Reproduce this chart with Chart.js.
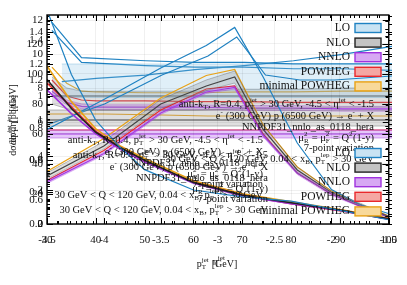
<!DOCTYPE html>
<html>
<head>
<meta charset="utf-8">
<script src="https://cdn.jsdelivr.net/npm/chart.js@4.4.1/dist/chart.umd.min.js"></script>
<style>
  html, body { margin: 0; padding: 0; background: #fff; }
  #wrap { position: relative; width: 407px; height: 285px; }
  #wrap canvas { position: absolute; left: 0; top: 0; }
</style>
</head>
<body>
<div id="wrap">
  <canvas id="cRatio1" width="407" height="285"></canvas>
  <canvas id="cRatio2" width="407" height="285"></canvas>
  <canvas id="cEta" width="407" height="285"></canvas>
  <canvas id="cPt" width="407" height="285"></canvas>
</div>
<script>
// ---- data ----
const ptBins = [30, 35, 40, 45, 50, 60, 70, 80, 90, 100];
const ptLO = [12.6, 8.8, 6.1, 4.5, 3.2, 2.0, 1.6, 1.35, 0.8, 0.25];
const ptNLO = [8.5, 6.8, 5.4, 4.5, 3.75, 2.45, 1.7, 1.25, 0.82, 0.3];
const ptNNLO = [7.9, 6.5, 5.3, 4.4, 3.65, 2.4, 1.65, 1.2, 0.8, 0.28];
const ptPOWHEG = [8.3, 6.9, 5.45, 4.5, 3.7, 2.45, 1.7, 1.2, 0.78, 0.3];
const ptMinPOWHEG = [9.3, 7.2, 5.6, 4.6, 3.85, 2.55, 1.78, 1.3, 0.85, 0.33];

const etaBins = [-4.5, -4.0, -3.5, -3.1, -2.85, -2.6, -2.3, -2.0, -1.75, -1.5];
const etaLO = [63, 83, 104, 119, 131, 98, 54, 23, 13, 7];
const etaNLO = [32, 52, 80, 92, 98, 63, 36, 21, 13, 5];
const etaNLOlo = [30, 50, 77, 89, 94, 60, 34, 20, 12, 4.5];
const etaNLOhi = [34, 55, 83, 96, 102, 66, 38, 22, 14, 5.5];
const etaNNLO = [28, 47, 74, 88, 91, 59, 34, 20, 12, 4.6];
const etaNNLOlo = [27, 46, 73, 87, 90, 58, 33, 19, 11.5, 4.3];
const etaNNLOhi = [29, 48, 75, 89, 92, 60, 35, 21, 12.5, 4.9];
const etaPOWHEG = [29, 49, 76, 90, 92, 60, 34, 20, 12, 4.8];
const etaMinPOWHEG = [35, 57, 84, 99, 103, 66, 38, 22, 13, 5.5];

const r1Bins = [31, 34, 37, 40, 50, 60, 70, 80, 90, 100];
const r1NLO = [1, 1, 1, 1, 1, 1, 1, 1, 1, 1];
const r1NLOlo = [0.95, 0.92, 0.91, 0.91, 0.91, 0.91, 0.92, 0.92, 0.93, 0.93];
const r1NLOhi = [1.12, 1.05, 1.03, 1.03, 1.03, 1.03, 1.04, 1.04, 1.05, 1.05];
const r1LObox = [33, 40, 50, 60, 70, 80, 90, 100];
const r1LO = [1.09, 1.11, 1.13, 1.165, 1.19, 1.22, 1.26, 1.31];
const r1LOlo = [0.99, 0.99, 0.99, 0.99, 0.99, 0.99, 0.99, 0.99];
const r1LOhi = [1.2, 1.2, 1.2, 1.2, 1.2, 1.2, 1.2, 1.2];
const r1LObins = [31, 37, 50, 60, 70, 80, 90, 100];
const r1LOa = [1.46, 1.24, 1.22, 1.21, 1.21, 1.2, 1.2, 1.2];
const r1LOb = [1.41, 1.21, 1.19, 1.18, 1.18, 1.17, 1.17, 1.16];
const r1NNLO = [1.03, 0.96, 0.935, 0.93, 0.93, 0.93, 0.925, 0.925, 0.92, 0.92];
const r1NNLOlo = [1.01, 0.945, 0.92, 0.915, 0.915, 0.915, 0.91, 0.91, 0.905, 0.905];
const r1NNLOhi = [1.05, 0.975, 0.95, 0.945, 0.945, 0.945, 0.94, 0.94, 0.935, 0.935];
const r1POWHEG = [1.1, 1.0, 0.975, 0.97, 0.97, 0.965, 0.965, 0.96, 0.96, 0.96];
const r1MinPOWHEG = [1.18, 1.08, 1.03, 1.025, 1.02, 1.02, 1.025, 1.025, 1.03, 1.03];

const r2LO = [0.975, 1.08, 1.225, 1.32, 1.415, 1.225, 1.2, 1.2, 1.21, 1.22];
const r2NLO = [1, 1, 1, 1, 1, 1, 1, 1, 1, 1];
const r2NLOlo = [0.97, 0.97, 0.97, 0.97, 0.97, 0.97, 0.97, 0.97, 0.97, 0.97];
const r2NLOhi = [1.05, 1.05, 1.05, 1.05, 1.05, 1.05, 1.05, 1.05, 1.05, 1.05];
const r2NNLO = [0.93, 0.93, 0.93, 0.93, 0.93, 0.93, 0.93, 0.93, 0.93, 0.93];
const r2NNLOlo = [0.91, 0.91, 0.91, 0.91, 0.91, 0.91, 0.91, 0.91, 0.91, 0.91];
const r2NNLOhi = [0.95, 0.95, 0.95, 0.95, 0.95, 0.95, 0.95, 0.95, 0.95, 0.95];
const r2POWHEG = [0.95, 0.95, 0.95, 0.95, 0.95, 0.95, 0.95, 0.95, 0.95, 0.95];
const r2MinPOWHEG = [1.03, 1.03, 1.025, 1.02, 1.02, 1.02, 1.02, 1.02, 1.02, 1.02];

const legendNames = ['LO', 'NLO', 'NNLO', 'POWHEG', 'minimal POWHEG'];
const infoLines = [
  'anti-k_{T}, R=0.4, p_{T}^{jet} > 30 GeV, -4.5 < η^{jet} < -1.5',
  'e^{-} (300 GeV) p (6500 GeV) → e^{-} + X',
  'NNPDF31_nnlo_as_0118_hera',
  'μ_{R}^{2} = μ_{F}^{2} = Q^{2}(1-y)',
  '7-point variation',
  '30 GeV < Q < 120 GeV, 0.04 < x_{B}, p_{T}^{lep} > 30 GeV'
];

// ---- styles ----
const COL = {
  LO: '#1f82c2', NLO: '#222222', NNLO: '#a032de', POWHEG: '#e8282c', MIN: '#e9a216'
};
const FILL = {
  LO: 'rgba(130,190,228,0.32)', NLO: 'rgba(150,150,150,0.3)', NNLO: 'rgba(175,80,235,0.32)',
  POWHEG: 'rgba(242,110,105,0.4)', MIN: 'rgba(246,196,90,0.4)'
};
const legendCols = [COL.LO, COL.NLO, COL.NNLO, COL.POWHEG, COL.MIN];
const legendFills = ['#c9e3f3', '#c4c4c4', '#d7a8f3', '#f5a7a3', '#f8d99a'];
const SERIF = '"Liberation Serif", "DejaVu Serif", serif';

const pts = (xs, ys) => xs.map((x, i) => ({ x: x, y: ys[i] }));
const fmt = v => String(Math.round(v * 1000) / 1000);

function line(xs, ys, color, w) {
  return { data: pts(xs, ys), borderColor: color, borderWidth: w || 1.2, pointRadius: 0, fill: false };
}

function band(xs, lo, hi, color, fillColor) {
  return [
    { data: pts(xs, hi), borderColor: color, borderWidth: 0.7, pointRadius: 0, fill: '+1', backgroundColor: fillColor },
    { data: pts(xs, lo), borderColor: color, borderWidth: 0.7, pointRadius: 0, fill: false }
  ];
}

// inward major/minor ticks on all four sides
const inTicks = {
  id: 'inTicks',
  afterDraw(chart, args, o) {
    const { ctx, chartArea: a } = chart;
    const sx = chart.scales.x, sy = chart.scales.y;
    ctx.save();
    ctx.strokeStyle = '#000';
    ctx.lineWidth = 1;
    ctx.beginPath();
    if (o.minorX) {
      const n = Math.round((sx.max - sx.min) / o.minorX);
      for (let i = 0; i <= n; i++) {
        const v = sx.min + i * o.minorX;
        const r = v / o.majorX;
        const L = Math.abs(r - Math.round(r)) < 1e-6 ? 6 : 3;
        const p = Math.round(sx.getPixelForValue(v)) + 0.5;
        ctx.moveTo(p, a.bottom); ctx.lineTo(p, a.bottom - L);
        ctx.moveTo(p, a.top); ctx.lineTo(p, a.top + L);
      }
    }
    if (o.minorY) {
      const n = Math.floor((sy.max - sy.min) / o.minorY + 1e-6);
      for (let i = 0; i <= n; i++) {
        const v = sy.min + i * o.minorY;
        const r = v / o.majorY;
        const L = Math.abs(r - Math.round(r)) < 1e-6 ? 6 : 3;
        const p = Math.round(sy.getPixelForValue(v)) + 0.5;
        ctx.moveTo(a.left, p); ctx.lineTo(a.left + L, p);
        ctx.moveTo(a.right, p); ctx.lineTo(a.right - L, p);
      }
    }
    ctx.stroke();
    ctx.restore();
  }
};

// rich text: _{sub} ^{sup}
function parseRich(s) {
  const parts = [];
  const re = /_\{([^}]*)\}\^\{([^}]*)\}|_\{([^}]*)\}|\^\{([^}]*)\}/g;
  let last = 0, m;
  while ((m = re.exec(s))) {
    if (m.index > last) parts.push({ t: s.slice(last, m.index) });
    if (m[1] !== undefined) parts.push({ sub: m[1], sup: m[2] });
    else if (m[3] !== undefined) parts.push({ sub: m[3] });
    else parts.push({ sup: m[4] });
    last = re.lastIndex;
  }
  if (last < s.length) parts.push({ t: s.slice(last) });
  return parts;
}

function drawRich(ctx, s, x, y, size, align) {
  const parts = parseRich(s);
  const big = size + 'px ' + SERIF, small = Math.round(size * 0.7) + 'px ' + SERIF;
  const widths = parts.map(p => {
    if (p.t !== undefined) { ctx.font = big; return ctx.measureText(p.t).width; }
    ctx.font = small;
    return Math.max(p.sub ? ctx.measureText(p.sub).width : 0, p.sup ? ctx.measureText(p.sup).width : 0) + 0.5;
  });
  const total = widths.reduce((s2, w) => s2 + w, 0);
  let cx = align === 'right' ? x - total : align === 'center' ? x - total / 2 : x;
  ctx.textBaseline = 'middle';
  ctx.textAlign = 'left';
  parts.forEach((p, i) => {
    if (p.t !== undefined) { ctx.font = big; ctx.fillText(p.t, cx, y); }
    else {
      ctx.font = small;
      if (p.sup) ctx.fillText(p.sup, cx, y - size * 0.35);
      if (p.sub) ctx.fillText(p.sub, cx, y + size * 0.3);
    }
    cx += widths[i];
  });
}

const annot = {
  id: 'annot',
  afterDraw(chart) {
    const { ctx, chartArea: a } = chart;
    ctx.save();
    ctx.fillStyle = '#111';
    // text blocks (three overlapping copies)
    const dy = [0, 12, 23, 34, 44, 55];
    [[374, 104], [263, 140], [268, 155]].forEach(([bx, by]) => {
      infoLines.forEach((t, i) => drawRich(ctx, t, bx, by + dy[i], 10.5, 'right'));
    });
    // legends
    [28, 153].forEach(y0 => {
      legendNames.forEach((n, i) => {
        const y = y0 + i * 14.6;
        ctx.fillStyle = '#111';
        ctx.font = '11.5px ' + SERIF;
        ctx.textAlign = 'right';
        ctx.textBaseline = 'middle';
        ctx.fillText(n, 350, y);
        ctx.fillStyle = legendFills[i];
        ctx.fillRect(355, y - 4.5, 26, 9);
        ctx.strokeStyle = legendCols[i];
        ctx.lineWidth = 1.4;
        ctx.strokeRect(355, y - 4.5, 26, 9);
      });
    });
    // axis titles
    ctx.fillStyle = '#111';
    drawRich(ctx, 'p_{T}^{jet} [GeV]', 217, 264, 10, 'center');
    drawRich(ctx, 'η^{jet}', 219, 262, 10, 'center');
    ctx.save();
    ctx.translate(13, 120);
    ctx.rotate(-Math.PI / 2);
    drawRich(ctx, 'dσ/dp_{T}^{jet} [pb/GeV]', 0, 0, 10, 'center');
    drawRich(ctx, 'dσ/dη^{jet} [pb]', 0, 0, 10, 'center');
    ctx.restore();
    // frame
    ctx.strokeStyle = '#000';
    ctx.lineWidth = 1.4;
    ctx.strokeRect(a.left, a.top, a.right - a.left, a.bottom - a.top);
    ctx.restore();
  }
};

const tickFont = { family: SERIF, size: 11 };

function makeChart(id, xCfg, yCfg, datasets, tickOpt, extra) {
  return new Chart(document.getElementById(id), {
    type: 'line',
    data: { datasets: datasets },
    options: {
      responsive: false,
      animation: false,
      devicePixelRatio: 1,
      layout: { padding: { top: 15, right: 15, left: 0, bottom: 0 } },
      elements: { line: { tension: 0 } },
      plugins: { legend: { display: false }, tooltip: { enabled: false }, inTicks: tickOpt },
      scales: {
        x: Object.assign({
          type: 'linear', position: 'bottom',
          afterFit(s) { s.height = 61; },
          border: { display: false }
        }, xCfg),
        y: Object.assign({
          type: 'linear', position: 'left',
          afterFit(s) { s.width = 47; },
          border: { display: false }
        }, yCfg)
      }
    },
    plugins: [inTicks].concat(extra || [])
  });
}

const gridOn = { color: 'rgba(0,0,0,0.06)', drawTicks: false };
const gridOff = { display: false, drawTicks: false };
const yTicks = step => ({ stepSize: step, includeBounds: false, font: tickFont, color: '#111', padding: 4, callback: fmt });
const xTicks = step => ({ stepSize: step, includeBounds: false, font: tickFont, color: '#111', padding: 10, callback: fmt });

// ratio panel on pT axis
makeChart('cRatio1',
  { min: 30, max: 100, grid: gridOff, ticks: { display: false } },
  { min: 0.2, max: 1.506, grid: gridOff, ticks: yTicks(0.2) },
  [].concat(
    band(r1LObox, r1LOlo, r1LOhi, 'rgba(31,130,194,0.35)', 'rgba(130,190,228,0.25)'),
    band(r1Bins, r1NLOlo, r1NLOhi, 'rgba(60,60,60,0.5)', FILL.NLO),
    band(r1Bins, r1NNLOlo, r1NNLOhi, 'rgba(160,50,222,0.6)', FILL.NNLO),
    [
      line(r1LObins, r1LOa, COL.LO), line(r1LObins, r1LOb, COL.LO),
      line(r1LObox, r1LO, COL.LO),
      line(r1Bins, r1NLO, COL.NLO),
      line(r1Bins, r1NNLO, COL.NNLO),
      line(r1Bins, r1POWHEG, COL.POWHEG),
      line(r1Bins, r1MinPOWHEG, COL.MIN)
    ]
  ),
  { majorY: 0.2, minorY: 0.05 }
);

// ratio panel on eta axis
makeChart('cRatio2',
  { min: -4.5, max: -1.5, grid: gridOff, ticks: { display: false } },
  { min: 0.48, max: 1.525, grid: gridOff, ticks: yTicks(0.2) },
  [].concat(
    band(etaBins, r2NLOlo, r2NLOhi, 'rgba(60,60,60,0.5)', FILL.NLO),
    band(etaBins, r2NNLOlo, r2NNLOhi, 'rgba(160,50,222,0.6)', FILL.NNLO),
    [
      line(etaBins, r2LO, COL.LO),
      line(etaBins, r2NLO, COL.NLO),
      line(etaBins, r2NNLO, COL.NNLO),
      line(etaBins, r2POWHEG, COL.POWHEG),
      line(etaBins, r2MinPOWHEG, COL.MIN)
    ]
  ),
  { majorY: 0.2, minorY: 0.05 }
);

// eta distribution
makeChart('cEta',
  { min: -4.5, max: -1.5, grid: gridOn, ticks: xTicks(0.5) },
  { min: 0, max: 139.3, grid: gridOn, ticks: yTicks(20) },
  [].concat(
    band(etaBins, etaNLOlo, etaNLOhi, 'rgba(60,60,60,0.45)', FILL.NLO),
    band(etaBins, etaNNLOlo, etaNNLOhi, 'rgba(160,50,222,0.5)', FILL.NNLO),
    [
      line(etaBins, etaLO, COL.LO),
      line(etaBins, etaNLO, COL.NLO),
      line(etaBins, etaNNLO, COL.NNLO),
      line(etaBins, etaPOWHEG, COL.POWHEG),
      line(etaBins, etaMinPOWHEG, COL.MIN)
    ]
  ),
  { majorX: 0.5, minorX: 0.1, majorY: 20, minorY: 5 }
);

// pT distribution (top layer, carries the annotations)
makeChart('cPt',
  { min: 30, max: 100, grid: gridOn, ticks: xTicks(10) },
  { min: 0, max: 12.3, grid: gridOn, ticks: yTicks(2) },
  [
    line(ptBins, ptLO, COL.LO),
    line(ptBins, ptNLO, COL.NLO, 1.6),
    line(ptBins, ptNNLO, COL.NNLO, 1.6),
    line(ptBins, ptPOWHEG, COL.POWHEG, 1.6),
    line(ptBins, ptMinPOWHEG, COL.MIN, 1.6)
  ],
  { majorX: 10, minorX: 2, majorY: 2, minorY: 0.5 },
  [annot]
);
</script>
</body>
</html>
